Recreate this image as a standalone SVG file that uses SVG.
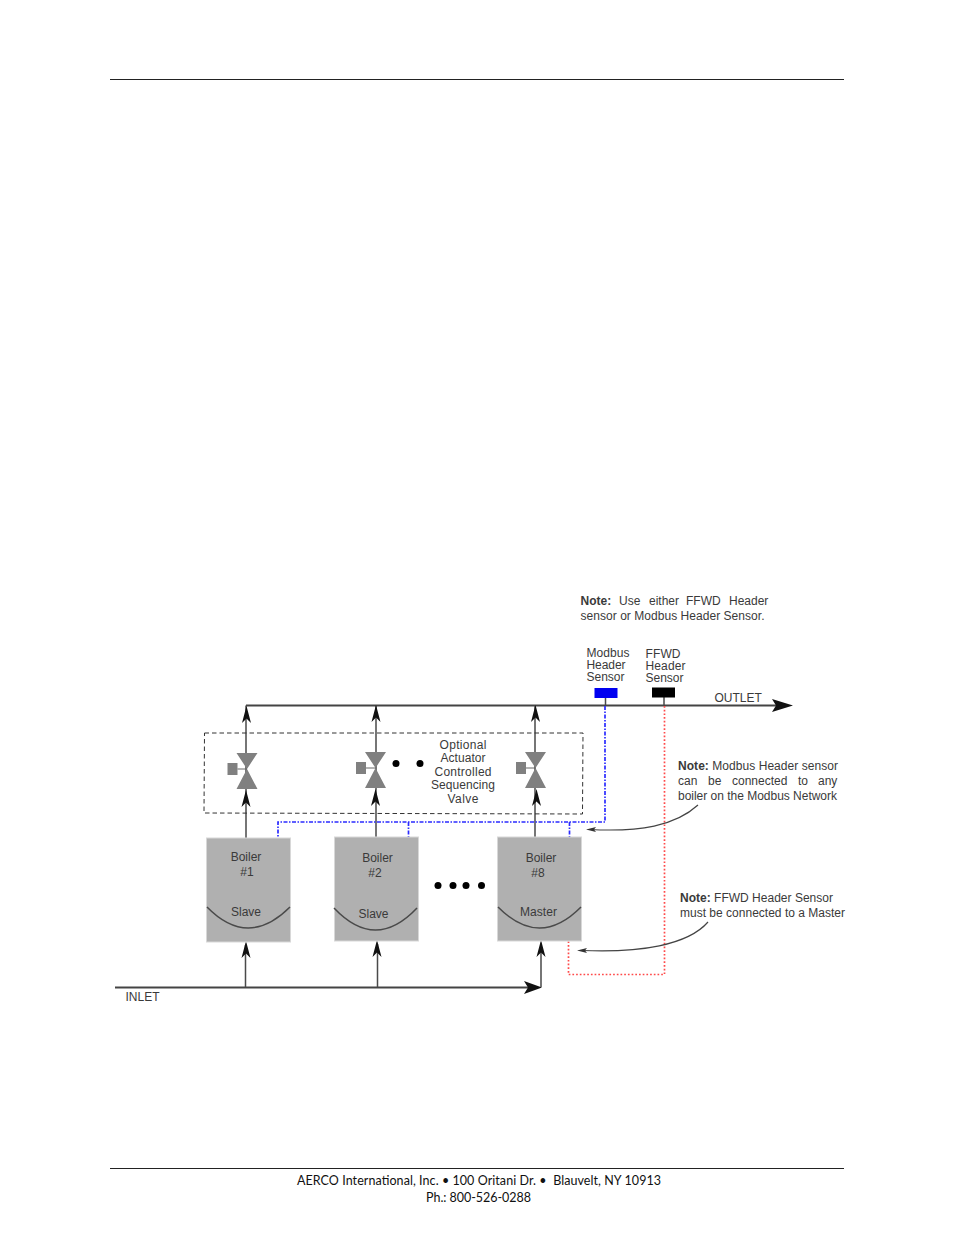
<svg xmlns="http://www.w3.org/2000/svg" width="954" height="1235" viewBox="0 0 954 1235">
<style>
text{font-family:"Liberation Sans",Arial,sans-serif;font-size:12px;fill:#3a3a3a}
.m{text-anchor:middle}
.foot{font-family:Lato,"Noto Sans",sans-serif;font-size:12.500px;fill:#111;text-anchor:middle}
.pipe{fill:none;stroke:#4a4a4a;stroke-width:1.500}
.head{fill:none;stroke:#444;stroke-width:2}
.call{fill:none;stroke:#444;stroke-width:1.200}
.blue{fill:none;stroke:#2b2bff;stroke-width:1.700;stroke-dasharray:4 1.500 1.500 1.500}
.red{fill:none;stroke:#ff4a4a;stroke-width:1.700;stroke-dasharray:1.700 2}
.boiler{fill:#b0b0b0;stroke:#d8d8d8;stroke-width:1}
.curve{fill:none;stroke:#4a4a4a;stroke-width:1.500}
.valve{fill:#808080}
.dot{fill:#000}
.b{font-weight:bold}
</style>
<defs>
<path id="up" d="M0 0L4.500 17L0 12.500L-4.500 17Z" fill="#111"/>
<path id="small" d="M0 0L10 -2.500L8 0L10 2.500Z" fill="#333"/>
<g id="valve"><path class="valve" d="M-10.500 -16H10.500L0 0ZM-10.500 20H10.500L0 0Z"/><path class="valve" d="M-19.500 -6H-9.500V6H-19.500Z"/><path d="M-9.500 0H0" stroke="#666" stroke-width="1"/></g>
</defs>
<g id="page-rules" stroke="#222" stroke-width="1"><path d="M110 79.500H844M110 1168.500H844"/></g>
<g id="connectors">
<path class="head" d="M246 705.500H778"/>
<path class="pipe" d="M246 705.500V838M376 705.500V837M535 705.500V837"/>
<path class="head" d="M115 987.500H530"/>
<path class="pipe" d="M245.500 987V945M377.500 987V944M541 987V944"/>
<path class="pipe" d="M605.500 697V705M664 697V705"/>
<path class="blue" d="M605 706V822H278V838M408.500 822V837M569.500 822V837"/>
<path class="red" d="M664.500 706V974.500H568.500V940"/>
<path d="M204.500 733H583L582.500 814L204 813Z" fill="none" stroke="#333" stroke-width="1" stroke-dasharray="4.500 3"/>
<use href="#up" x="246.500" y="706"/><use href="#up" x="376" y="705"/><use href="#up" x="535.500" y="705"/>
<use href="#up" x="246" y="790"/><use href="#up" x="375.500" y="789"/><use href="#up" x="536.500" y="789"/>
<use href="#up" x="246" y="941"/><use href="#up" x="377" y="940"/><use href="#up" x="541" y="940"/>
<path d="M542 987.500L524 981L528 987.500L524 994Z" fill="#111"/>
<path d="M793 705.500L772 699L776 705.500L772 712Z" fill="#111"/>
<path class="call" d="M698 805C675 826 640 832 590 829.500"/>
<use href="#small" x="586" y="829.500"/>
<path class="call" d="M708 922C688 945 640 953 582 950.500"/>
<use href="#small" x="577" y="950.500"/>
</g>
<g id="valve-1"><use href="#valve" x="247" y="769"/></g>
<g id="valve-2"><use href="#valve" x="375.500" y="768"/></g>
<g id="valve-3"><use href="#valve" x="535.500" y="768"/></g>
<g id="valve-dots"><circle class="dot" cx="396" cy="763.500" r="3.500"/><circle class="dot" cx="420" cy="763.500" r="3.500"/></g>
<g id="valve-label"><text class="m" x="463" y="749" textLength="47">Optional</text><text class="m" x="463" y="762" textLength="45">Actuator</text><text class="m" x="463" y="776" textLength="57">Controlled</text><text class="m" x="463" y="789" textLength="64">Sequencing</text><text class="m" x="463" y="803" textLength="31">Valve</text></g>
<g id="boiler-1"><rect class="boiler" x="206.500" y="838" width="84" height="104"/><path class="curve" d="M207 907Q248 949 290 907"/><text class="m" x="246" y="861">Boiler</text><text class="m" x="247" y="876">#1</text><text class="m" x="246" y="916">Slave</text></g>
<g id="boiler-2"><rect class="boiler" x="334.500" y="837" width="84" height="104"/><path class="curve" d="M334 908Q375.500 952 417 908"/><text class="m" x="377.500" y="862">Boiler</text><text class="m" x="375" y="877">#2</text><text class="m" x="373.500" y="918">Slave</text></g>
<g id="boiler-8"><rect class="boiler" x="497.500" y="837" width="84" height="104"/><path class="curve" d="M498 907Q539.500 949 581 907"/><text class="m" x="541" y="862">Boiler</text><text class="m" x="538" y="877">#8</text><text class="m" x="538.500" y="916" textLength="37">Master</text></g>
<g id="boiler-dots"><circle class="dot" cx="438" cy="885.500" r="3.500"/><circle class="dot" cx="453" cy="885.500" r="3.500"/><circle class="dot" cx="466" cy="885.500" r="3.500"/><circle class="dot" cx="481.500" cy="885.500" r="3.500"/></g>
<g id="inlet"><text x="125.500" y="1001">INLET</text></g>
<g id="outlet"><text x="714.500" y="702">OUTLET</text></g>
<g id="sensor-modbus"><rect x="594.500" y="688" width="23" height="10" fill="#0000f0"/><text x="586.500" y="657" textLength="43">Modbus</text><text x="586.500" y="669" textLength="39">Header</text><text x="586.500" y="681" textLength="38">Sensor</text></g>
<g id="sensor-ffwd"><rect x="652" y="687.500" width="23" height="10" fill="#000"/><text x="645.500" y="658" textLength="35">FFWD</text><text x="645.500" y="670" textLength="40">Header</text><text x="645.500" y="682" textLength="38">Sensor</text></g>
<g id="note-top"><text y="605"><tspan class="b" x="580.500">Note: </tspan><tspan x="619">Use </tspan><tspan x="649">either </tspan><tspan x="686">FFWD </tspan><tspan x="729">Header</tspan></text><text x="580.500" y="620" textLength="184">sensor or Modbus Header Sensor.</text></g>
<g id="note-modbus"><text x="678" y="770" textLength="160"><tspan class="b">Note:</tspan> Modbus Header sensor</text><text y="785"><tspan x="678">can </tspan><tspan x="708">be </tspan><tspan x="732">connected </tspan><tspan x="798">to </tspan><tspan x="818">any</tspan></text><text x="678" y="800" textLength="159">boiler on the Modbus Network</text></g>
<g id="note-ffwd"><text x="680" y="902" textLength="153"><tspan class="b">Note:</tspan> FFWD Header Sensor</text><text x="680" y="917" textLength="165">must be connected to a Master</text></g>
<g id="footer"><text class="foot" x="479" y="1185" textLength="364" xml:space="preserve">AERCO International, Inc. • 100 Oritani Dr. •  Blauvelt, NY 10913</text><text class="foot" x="478.500" y="1202" textLength="105">Ph.: 800-526-0288</text></g>
</svg>
